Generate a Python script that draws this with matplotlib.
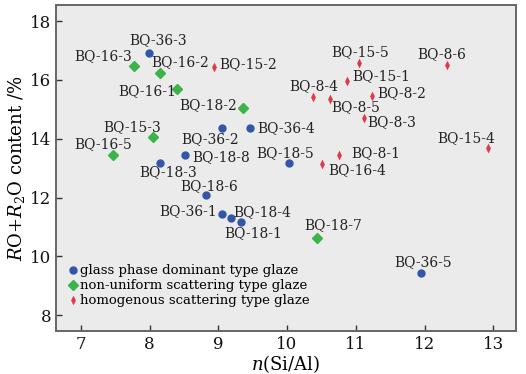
import matplotlib.pyplot as plt

# glass phase dominant type glaze
glass_names = ["BQ-36-3", "BQ-36-2", "BQ-36-4", "BQ-18-8", "BQ-18-3", "BQ-18-5",
               "BQ-18-6", "BQ-36-1", "BQ-18-4", "BQ-18-1", "BQ-36-5"]
glass_x = [7.99, 9.05, 9.46, 8.52, 8.15, 10.03, 8.82, 9.05, 9.18, 9.33, 11.95]
glass_y = [16.92, 14.37, 14.37, 13.45, 13.18, 13.18, 12.09, 11.45, 11.31, 11.18, 9.44]

# non-uniform scattering type glaze
nonuni_names = ["BQ-16-3", "BQ-16-2", "BQ-16-1", "BQ-18-2", "BQ-15-3", "BQ-16-5", "BQ-18-7"]
nonuni_x = [7.77, 8.15, 8.40, 9.36, 8.05, 7.47, 10.43]
nonuni_y = [16.48, 16.24, 15.70, 15.05, 14.06, 13.45, 10.63]

# homogenous scattering type glaze
homo_names = ["BQ-15-2", "BQ-15-5", "BQ-15-1", "BQ-8-4", "BQ-8-5", "BQ-8-2",
              "BQ-8-3", "BQ-8-6", "BQ-15-4", "BQ-8-1", "BQ-16-4"]
homo_x = [8.94, 11.04, 10.87, 10.38, 10.62, 11.23, 11.12, 12.32, 12.92, 10.75, 10.51]
homo_y = [16.45, 16.58, 15.97, 15.42, 15.36, 15.46, 14.71, 16.51, 13.69, 13.45, 13.15]

# label offsets (pixels, text centre relative to marker)
offsets = {
    "BQ-36-3": (9, 13), "BQ-36-2": (-12, -11), "BQ-36-4": (36, 0), "BQ-18-8": (36, -2),
    "BQ-18-3": (8, -9), "BQ-18-5": (-4, 10), "BQ-18-6": (3, 9), "BQ-36-1": (-34, 3),
    "BQ-18-4": (32, 6), "BQ-18-1": (12, -11), "BQ-36-5": (2, 11),
    "BQ-16-3": (-31, 10), "BQ-16-2": (20, 11), "BQ-16-1": (-30, -2), "BQ-18-2": (-35, 3),
    "BQ-15-3": (-21, 10), "BQ-16-5": (-10, 11), "BQ-18-7": (17, 13),
    "BQ-15-2": (34, 3), "BQ-15-5": (2, 11), "BQ-15-1": (34, 5), "BQ-8-4": (1, 11),
    "BQ-8-5": (26, -8), "BQ-8-2": (30, 3), "BQ-8-3": (28, -4), "BQ-8-6": (-5, 11),
    "BQ-15-4": (-22, 10), "BQ-8-1": (37, 2), "BQ-16-4": (35, -6),
}

plt.rcParams["font.family"] = "DejaVu Serif"
plt.rcParams["mathtext.fontset"] = "dejavuserif"

fig = plt.figure(figsize=(5.26, 3.74), dpi=100)
ax = fig.add_axes([0.1065, 0.115, 0.8745, 0.8716])
ax.set_facecolor("#ebebeb")

thin_diamond = [(0, 1), (0.5, 0), (0, -1), (-0.5, 0), (0, 1)]

ax.plot(glass_x, glass_y, "o", color="#3456a8", markersize=5, linestyle="none",
        label="glass phase dominant type glaze")
ax.plot(nonuni_x, nonuni_y, "D", color="#3cb44a", markersize=5.2, linestyle="none",
        label="non-uniform scattering type glaze")
ax.plot(homo_x, homo_y, marker=thin_diamond, color="#e03a48", markersize=7,
        markeredgewidth=0, linestyle="none", label="homogenous scattering type glaze")

for names, xs, ys in [(glass_names, glass_x, glass_y),
                      (nonuni_names, nonuni_x, nonuni_y),
                      (homo_names, homo_x, homo_y)]:
    for name, x, y in zip(names, xs, ys):
        dx, dy = offsets[name]
        ax.annotate(name, (x, y), xytext=(dx, dy), textcoords="offset pixels",
                    ha="center", va="center", fontsize=10, color="#222222")

ax.set_xlim(6.64, 13.33)
ax.set_ylim(7.46, 18.55)
ax.set_xticks(range(7, 14))
ax.set_yticks(range(8, 19, 2))
ax.tick_params(direction="in", length=4, width=1, labelsize=12, colors="#333333",
               labelcolor="#111111")
for s in ax.spines.values():
    s.set_color("#666666")
    s.set_linewidth(1.4)

ax.set_xlabel(r"$n$(Si/Al)", fontsize=13, labelpad=0)
ax.set_ylabel(r"$R$O+$R_2$O content /%", fontsize=13, labelpad=2)

ax.legend(loc="lower left", bbox_to_anchor=(0.013, 0.052), frameon=False,
          fontsize=9.5, handlelength=0.6, handletextpad=0.3, labelspacing=0.15,
          borderaxespad=0.3, borderpad=0.2)

fig.savefig("out.png", dpi=100)
